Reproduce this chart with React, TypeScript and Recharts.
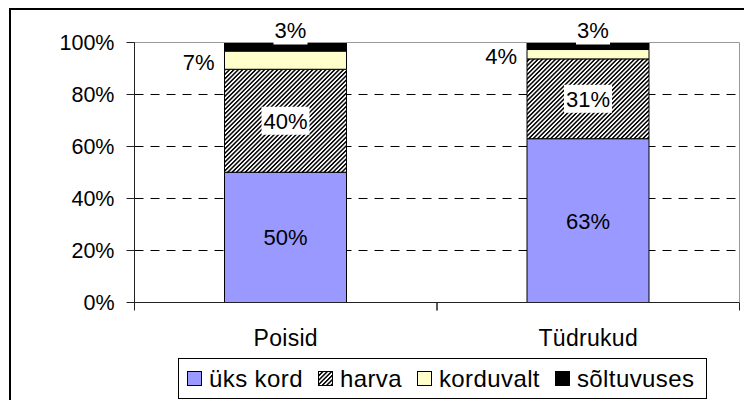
import { BarChart, Bar, XAxis, YAxis, CartesianGrid, ReferenceLine, Legend, LabelList } from "recharts";

const categories = ["Poisid", "Tüdrukud"];
const uksKord = [50.1, 63.0];
const harva = [39.6, 30.7];
const korduvalt = [7.0, 3.6];
const soltuvuses = [3.3, 2.7];
const yTicks = [0, 20, 40, 60, 80, 100];

const series = [
  { key: "uks", name: "üks kord", fill: "#9999FF" },
  { key: "harva", name: "harva", fill: "url(#hatch)" },
  { key: "kord", name: "korduvalt", fill: "#FFFFCC" },
  { key: "solt", name: "sõltuvuses", fill: "#000000" },
];

const data = categories.map((c, i) => ({
  name: c,
  uks: uksKord[i],
  harva: harva[i],
  kord: korduvalt[i],
  solt: soltuvuses[i],
}));

const FONT = "'Liberation Sans', Arial, sans-serif";
const pct = (v: any) => `${Math.round(Number(v))}%`;

// x axis: category label at band centre, tick marks at band edges
const CatTick = (props: any) => {
  const { x, y, payload } = props;
  const half = payload && payload.offset ? payload.offset : 0;
  return (
    <g>
      {half > 0 && (
        <>
          <line x1={x - half} x2={x - half} y1={y} y2={y + 8} stroke="#222" />
          <line x1={x + half} x2={x + half} y1={y} y2={y + 8} stroke="#222" />
        </>
      )}
      <text x={x} y={y + 27} dy="0.71em" textAnchor="middle" fontSize={23} fontFamily={FONT} fill="#000" letterSpacing={0.3}>
        {payload.value}
      </text>
    </g>
  );
};

const CenterLabel = (props: any) => {
  const { x, y, width, height, value } = props;
  return (
    <text x={x + width / 2} y={y + height / 2} dy="0.36em" textAnchor="middle" fontSize={22} fontFamily={FONT} fill="#000">
      {pct(value)}
    </text>
  );
};

const BoxedLabel = (props: any) => {
  const { x, y, width, height, value } = props;
  const cx = x + width / 2;
  const cy = y + height / 2;
  return (
    <g>
      <rect x={cx - 24} y={cy - 14} width={48} height={28} fill="#fff" />
      <text x={cx} y={cy} dy="0.36em" textAnchor="middle" fontSize={22} fontFamily={FONT} fill="#000">
        {pct(value)}
      </text>
    </g>
  );
};

const LeftLabel = (props: any) => {
  const { x, y, height, value } = props;
  return (
    <text x={x - 10} y={y + height / 2 + 2} dy="0.36em" textAnchor="end" fontSize={22} fontFamily={FONT} fill="#000">
      {pct(value)}
    </text>
  );
};

const TopLabel = (props: any) => {
  const { x, y, width, value } = props;
  const cx = x + width / 2 + 5;
  return (
    <g>
      <rect x={cx - 17} y={y - 25} width={34} height={27} fill="#fff" />
      <text x={cx} y={y - 12} dy="0.36em" textAnchor="middle" fontSize={22} fontFamily={FONT} fill="#000">
        {pct(value)}
      </text>
    </g>
  );
};

const LegendBox = () => (
  <div
    style={{
      display: "flex",
      alignItems: "center",
      boxSizing: "border-box",
      height: 41,
      width: 529,
      border: "1px solid #000",
      background: "#fff",
      paddingLeft: 8,
      fontFamily: FONT,
      fontSize: 24,
      letterSpacing: 0.4,
      color: "#000",
      whiteSpace: "nowrap",
    }}
  >
    {series.map((s) => (
      <div key={s.key} style={{ display: "flex", alignItems: "center", marginRight: 15 }}>
        <svg width={15} height={15} style={{ marginRight: 7 }}>
          <rect x={0.5} y={0.5} width={14} height={14} fill={s.fill} stroke="#000" />
        </svg>
        <span>{s.name}</span>
      </div>
    ))}
  </div>
);

export default function App() {
  return (
    <div style={{ position: "fixed", left: 0, top: 0, width: 744, height: 400, overflow: "hidden", background: "#fff" }}>
      <div
        style={{
          position: "absolute",
          left: 9,
          top: 8,
          width: 800,
          height: 500,
          borderLeft: "2px solid #000",
          borderTop: "2px solid #000",
        }}
      />
      <div style={{ position: "absolute", left: 0, top: 0 }}>
        <BarChart width={744} height={400} data={data} margin={{ top: 42.5, right: 0, bottom: 57.5, left: 0.5 }}>
          <defs>
            <pattern id="hatch" patternUnits="userSpaceOnUse" width={3.1} height={10} patternTransform="rotate(45)">
              <rect width={3.1} height={10} fill="#fff" />
              <rect width={1.5} height={10} fill="#000" />
            </pattern>
          </defs>
          <CartesianGrid vertical={false} stroke="#000" strokeDasharray="9 7" />
          <XAxis
            dataKey="name"
            height={40}
            axisLine={{ stroke: "#222" }}
            tickLine={false}
            tickSize={0}
            tickMargin={0}
            tick={<CatTick />}
            interval={0}
          />
          <YAxis
            domain={[0, 100]}
            ticks={yTicks}
            tickFormatter={(v) => `${v}%`}
            width={134}
            tickSize={8}
            tickMargin={12}
            axisLine={{ stroke: "#222" }}
            tickLine={{ stroke: "#222" }}
            tick={{ fontSize: 21.5, fontFamily: FONT, fill: "#000" }}
          />
          <YAxis
            yAxisId="r"
            orientation="right"
            domain={[0, 100]}
            width={4.5}
            tick={false}
            tickLine={false}
            axisLine={{ stroke: "#999" }}
          />
          <ReferenceLine y={100} stroke="#999" />
          <Legend
            layout="horizontal"
            verticalAlign="middle"
            align="center"
            content={<LegendBox />}
            wrapperStyle={{ position: "absolute", left: 178, top: 358, width: 529, height: 41 }}
          />
          <Bar dataKey="uks" name="üks kord" stackId="a" barSize={122} fill="#9999FF" stroke="#000" isAnimationActive={false}>
            <LabelList dataKey="uks" content={<CenterLabel />} />
          </Bar>
          <Bar dataKey="harva" name="harva" stackId="a" barSize={122} fill="url(#hatch)" stroke="#000" isAnimationActive={false}>
            <LabelList dataKey="harva" content={<BoxedLabel />} />
          </Bar>
          <Bar dataKey="kord" name="korduvalt" stackId="a" barSize={122} fill="#FFFFCC" stroke="#000" isAnimationActive={false}>
            <LabelList dataKey="kord" content={<LeftLabel />} />
          </Bar>
          <Bar dataKey="solt" name="sõltuvuses" stackId="a" barSize={122} fill="#000000" stroke="#000" isAnimationActive={false}>
            <LabelList dataKey="solt" content={<TopLabel />} />
          </Bar>
        </BarChart>
      </div>
    </div>
  );
}
